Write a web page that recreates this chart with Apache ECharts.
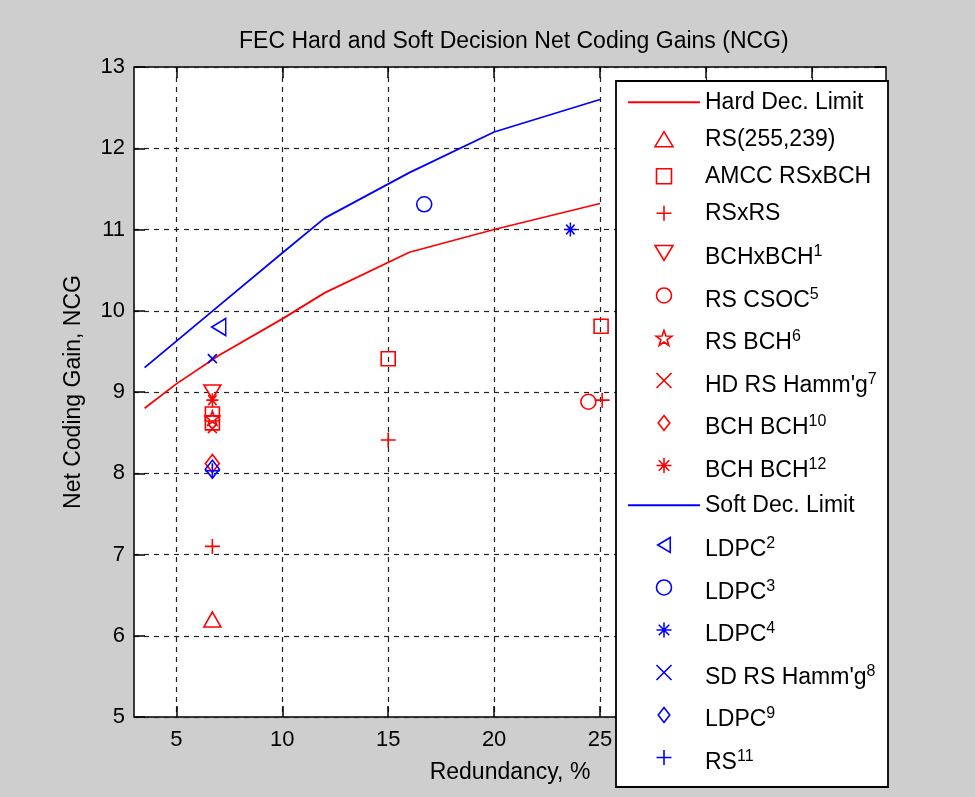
<!DOCTYPE html>
<html>
<head>
<meta charset="utf-8">
<script src="https://cdn.jsdelivr.net/npm/echarts@6/dist/echarts.min.js"></script>
<style>
html,body{margin:0;padding:0;background:#cecece;}
#chart{width:975px;height:797px;}
</style>
</head>
<body>
<div id="chart"></div>
<script>
// ---- data ----
const hardX = [3.5, 5, 7, 10, 12, 16, 20, 25];
const hardY = [8.8, 9.1, 9.45, 9.9, 10.22, 10.72, 11.0, 11.32];
const softX = [3.5, 7, 10, 12, 16, 20, 25];
const softY = [9.3, 10.06, 10.71, 11.14, 11.7, 12.2, 12.6];

const seriesBase = ['Hard Dec. Limit', 'RS(255,239)', 'AMCC RSxBCH', 'RSxRS', 'BCHxBCH', 'RS CSOC', 'RS BCH', "HD RS Hamm'g", 'BCH BCH', 'BCH BCH',
                    'Soft Dec. Limit', 'LDPC', 'LDPC', 'LDPC', "SD RS Hamm'g", 'LDPC', 'RS'];
const seriesSup = ['', '', '', '', '1', '5', '6', '7', '10', '12', '', '2', '3', '4', '8', '9', '11'];

// marker series (index matches seriesBase, null = line series)
const markerX = [null, [6.7], [6.7, 6.7, 15, 25.05], [6.7, 15, 25.1], [6.7], [24.45], [6.7], [6.7], [6.7], [6.7],
                 null, [7.0], [16.7], [23.6], [6.7], [6.7], [6.7]];
const markerY = [null, [6.2], [8.62, 8.73, 9.41, 9.81], [7.1, 8.41, 8.9], [9.0], [8.88], [8.68], [8.55], [8.12], [8.9],
                 null, [9.8], [11.31], [11.0], [9.41], [8.05], [8.03]];

const yTicks = [5, 6, 7, 8, 9, 10, 11, 12, 13];
const xTicks = [5, 10, 15, 20, 25, 30, 35];

// ---- styles ----
const RED = '#ff0000', BLUE = '#0000ff';
const P = {
  tri: 'path://M6,0L12,10L0,10Z',
  sq: 'path://M0,0L10,0L10,10L0,10Z',
  dia: 'path://M5,0L10,6.5L5,13L0,6.5Z',
  plus: 'path://M0,5L10,5M5,0L5,10',
  cross: 'path://M0,0L10,10M0,10L10,0',
  aster: 'path://M0,5L10,5M5,0L5,10M1.5,1.5L8.5,8.5M1.5,8.5L8.5,1.5',
  penta: 'path://M5,0L6.176,3.382L9.755,3.455L6.902,5.618L7.939,9.045L5,7L2.061,9.045L3.098,5.618L0.245,3.455L3.824,3.382Z',
  down: 'path://M0,0L12,0L6,10Z',
  left: 'path://M0,6L10,0L10,12Z',
  line: 'path://M0,0L70,0L70,1.8L0,1.8Z'
};
const symbolSpec = [
  null,
  [P.tri, [17, 15]],
  [P.sq, 14],
  [P.plus, 15],
  [P.down, [17, 14]],
  ['circle', 15],
  [P.penta, 14],
  [P.cross, 9],
  [P.dia, [14, 18]],
  [P.aster, [12, 14]],
  null,
  [P.left, [14, 17]],
  ['circle', 15],
  [P.aster, [12, 14]],
  [P.cross, 9],
  [P.dia, [14, 18]],
  [P.plus, 15]
];

const FONT = 'Liberation Sans, Arial, sans-serif';
const names = seriesBase.map((b, i) => b + seriesSup[i]);

const series = [];
names.forEach((nm, i) => {
  const col = i < 10 ? RED : BLUE;
  if (markerX[i] === null) {
    const xs = i === 0 ? hardX : softX;
    const ys = i === 0 ? hardY : softY;
    series.push({
      type: 'line', name: nm, data: xs.map((x, k) => [x, ys[k]]),
      symbol: 'none', color: col,
      lineStyle: { color: col, width: 1.8 }, itemStyle: { color: col },
      silent: true, animation: false, z: 2
    });
  } else {
    series.push({
      type: 'scatter', name: nm, data: markerX[i].map((x, k) => [x, markerY[i][k]]),
      symbol: symbolSpec[i][0], symbolSize: symbolSpec[i][1],
      itemStyle: { color: 'rgba(0,0,0,0)', borderColor: col, borderWidth: 1.6, opacity: 1 },
      silent: true, animation: false, z: 3
    });
  }
});

const legendData = names.map((nm, i) => markerX[i] === null ? { name: nm, icon: P.line } : { name: nm });

const chart = echarts.init(document.getElementById('chart'), null, { renderer: 'canvas' });

const gridLine = { show: true, lineStyle: { color: '#222', type: [5, 5], width: 1.2 } };
const tickStyleX = { show: true, inside: true, length: 11, customValues: xTicks, lineStyle: { color: '#000', width: 1.5 } };
const tickStyleY = { show: true, inside: true, length: 11, lineStyle: { color: '#000', width: 1.5 } };

chart.setOption({
  backgroundColor: '#cecece',
  animation: false,
  textStyle: { fontFamily: FONT },
  title: {
    text: 'FEC Hard and Soft Decision Net Coding Gains (NCG)',
    left: 234, top: 25,
    textStyle: { fontFamily: FONT, fontSize: 23, fontWeight: 'normal', color: '#000' }
  },
  grid: {
    left: 134, top: 67, right: 89, bottom: 80,
    show: true, backgroundColor: '#ffffff', borderColor: '#000', borderWidth: 1.5
  },
  xAxis: [{
    type: 'value', min: 3, max: 38.5,
    name: 'Redundancy, %', nameLocation: 'middle', nameGap: 44,
    nameTextStyle: { fontFamily: FONT, fontSize: 23, color: '#000' },
    axisLine: { show: false },
    axisTick: tickStyleX,
    axisLabel: { fontFamily: FONT, fontSize: 22, color: '#000', margin: 12, customValues: xTicks },
    splitLine: gridLine
  }, {
    type: 'value', position: 'top', min: 3, max: 38.5,
    axisLine: { show: false }, axisTick: tickStyleX,
    axisLabel: { show: false, customValues: xTicks }, splitLine: { show: false }
  }],
  yAxis: [{
    type: 'value', min: yTicks[0], max: yTicks[yTicks.length - 1], interval: 1,
    name: 'Net Coding Gain, NCG', nameLocation: 'middle', nameGap: 49,
    nameTextStyle: { fontFamily: FONT, fontSize: 23, color: '#000' },
    axisLine: { show: false },
    axisTick: tickStyleY,
    axisLabel: { fontFamily: FONT, fontSize: 22, color: '#000', margin: 9 },
    splitLine: gridLine
  }, {
    type: 'value', position: 'right', min: yTicks[0], max: yTicks[yTicks.length - 1], interval: 1,
    axisLine: { show: false }, axisTick: tickStyleY, axisLabel: { show: false }, splitLine: { show: false }
  }],
  graphic: [{
    type: 'rect', z: 10, silent: true,
    shape: { x: 616, y: 81, width: 272, height: 706 },
    style: { fill: '#ffffff', stroke: '#000', lineWidth: 1.8 }
  }],
  legend: {
    orient: 'vertical', left: 628, top: 88.7, padding: 0,
    itemWidth: 72, itemHeight: 15, itemGap: 10,
    selectedMode: false, z: 20,
    data: legendData,
    itemStyle: { borderWidth: 1.6 },
    formatter: function (name) {
      const i = names.indexOf(name);
      if (!seriesSup[i]) return '{a|' + seriesBase[i] + '}';
      return '{b|' + seriesBase[i] + '}{s|' + seriesSup[i] + '}{h| }';
    },
    textStyle: {
      fontFamily: FONT, fontSize: 23, color: '#000',
      rich: {
        a: { fontFamily: FONT, fontSize: 23, lineHeight: 26, color: '#000', padding: [2, 0, 2, 0] },
        b: { fontFamily: FONT, fontSize: 23, lineHeight: 26, color: '#000', verticalAlign: 'bottom' },
        s: { fontFamily: FONT, fontSize: 16, lineHeight: 22, color: '#000', verticalAlign: 'top', padding: [7, 0, 0, 0] },
        h: { fontFamily: FONT, fontSize: 10, lineHeight: 32.5, width: 0 }
      }
    }
  },
  series: series
});
</script>
</body>
</html>
